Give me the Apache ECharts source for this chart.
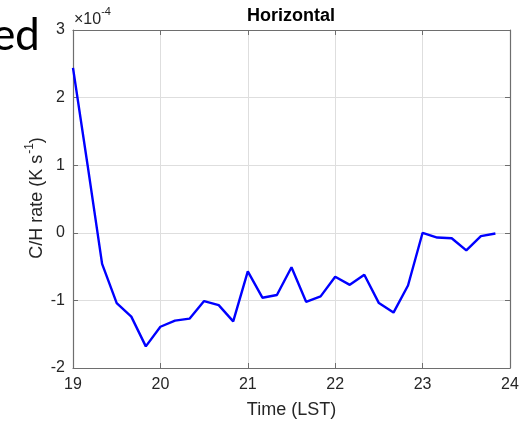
<!DOCTYPE html>
<html>
<head>
<meta charset="utf-8">
<script src="https://cdn.jsdelivr.net/npm/echarts@6/dist/echarts.min.js"></script>
<style>
  html, body { margin: 0; padding: 0; background: #fff; }
  #chart { width: 526px; height: 424px; }
</style>
</head>
<body>
<div id="chart"></div>
<script>
// Local solar time (hours), 10-minute steps
const timeLST = [
  19.0, 19.167, 19.333, 19.5, 19.667, 19.833,
  20.0, 20.167, 20.333, 20.5, 20.667, 20.833,
  21.0, 21.167, 21.333, 21.5, 21.667, 21.833,
  22.0, 22.167, 22.333, 22.5, 22.667, 22.833,
  23.0, 23.167, 23.333, 23.5, 23.667, 23.833
];
// Horizontal C/H rate, in units of 1e-4 K s^-1
const chRate = [
  2.44, 1.00, -0.46, -1.04, -1.24, -1.68,
  -1.39, -1.30, -1.27, -1.01, -1.07, -1.31,
  -0.57, -0.96, -0.92, -0.51, -1.02, -0.94,
  -0.65, -0.77, -0.62, -1.04, -1.18, -0.78,
  0.00, -0.07, -0.08, -0.26, -0.05, -0.01
];
const xTicks = [19, 20, 21, 22, 23, 24];
const yTicks = [-2, -1, 0, 1, 2, 3];

const FONT = 'Liberation Sans, Arial, Helvetica, sans-serif';
const TXT = '#262626';
const BOX = '#6e6e6e';

const chart = echarts.init(document.getElementById('chart'), null, { renderer: 'canvas' });

const axisCommon = {
  type: 'value',
  axisLine: { show: true, onZero: false, lineStyle: { color: BOX, width: 1.2 } },
  axisTick: { show: true, inside: true, length: 5, lineStyle: { color: BOX, width: 1 } },
  interval: 1
};

chart.setOption({
  animation: false,
  backgroundColor: '#fff',
  grid: { left: 73, right: 16, top: 30, bottom: 56, containLabel: false },
  xAxis: [
    Object.assign({}, axisCommon, {
      min: xTicks[0], max: xTicks[xTicks.length - 1],
      position: 'bottom',
      axisLabel: { fontFamily: FONT, fontSize: 16, color: TXT, margin: 9 },
      splitLine: { show: true, lineStyle: { color: '#dedede', width: 1 } },
      name: 'Time (LST)', nameLocation: 'middle', nameGap: 33,
      nameTextStyle: { fontFamily: FONT, fontSize: 18, color: TXT }
    }),
    Object.assign({}, axisCommon, {
      min: xTicks[0], max: xTicks[xTicks.length - 1],
      position: 'top',
      axisLabel: { show: false },
      splitLine: { show: false }
    })
  ],
  yAxis: [
    Object.assign({}, axisCommon, {
      min: yTicks[0], max: yTicks[yTicks.length - 1],
      position: 'left',
      axisLabel: { fontFamily: FONT, fontSize: 16, color: TXT, margin: 8 },
      splitLine: { show: true, lineStyle: { color: '#dedede', width: 1 } }
    }),
    Object.assign({}, axisCommon, {
      min: yTicks[0], max: yTicks[yTicks.length - 1],
      position: 'right',
      axisLabel: { show: false },
      splitLine: { show: false }
    })
  ],
  graphic: [
    {
      type: 'text', x: 291, y: 7,
      style: {
        text: 'Horizontal', textAlign: 'center',
        fontFamily: FONT, fontWeight: 'bold', fontSize: 18, fill: '#000'
      }
    },
    {
      // rotated y-axis title with superscript unit
      type: 'text', x: 35, y: 198, rotation: Math.PI / 2,
      style: {
        text: '{a|C/H rate (K s}{s|-1}{a|)}',
        align: 'center', verticalAlign: 'middle',
        rich: {
          a: { fontFamily: FONT, fontSize: 18, fill: TXT, lineHeight: 22, verticalAlign: 'bottom' },
          s: { fontFamily: FONT, fontSize: 12, fill: TXT, lineHeight: 22, verticalAlign: 'top', padding: [0, 0, 0, 1] }
        }
      }
    },
    {
      type: 'text', left: 74, top: 6,
      style: {
        text: '{a|×10}{s|-4}',
        rich: {
          a: { fontFamily: FONT, fontSize: 16, fill: TXT, lineHeight: 22, verticalAlign: 'bottom' },
          s: { fontFamily: FONT, fontSize: 11, fill: TXT, lineHeight: 22, verticalAlign: 'top' }
        }
      }
    },
    {
      type: 'text', right: 486, top: 15,
      style: { text: 'ed', fontFamily: 'Carlito, Liberation Sans, Arial, sans-serif', fontSize: 47, fill: '#000' }
    }
  ],
  series: [{
    type: 'line',
    xAxisIndex: 0, yAxisIndex: 0,
    data: timeLST.map((t, i) => [t, chRate[i]]),
    showSymbol: false,
    lineStyle: { color: '#0000ff', width: 2.4 },
    itemStyle: { color: '#0000ff' }
  }]
});
</script>
</body>
</html>
